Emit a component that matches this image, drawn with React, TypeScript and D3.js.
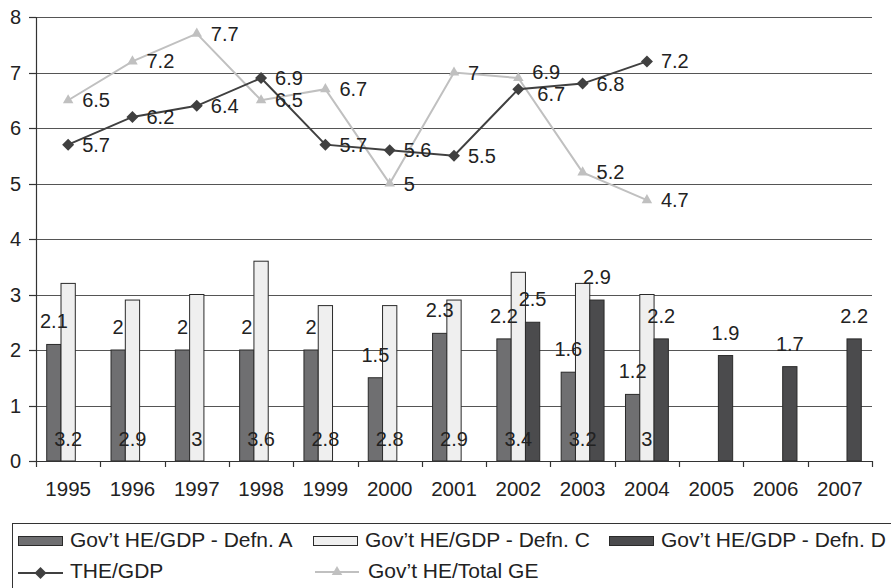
import React from 'react';
import * as d3 from 'd3';

const years = ['1995','1996','1997','1998','1999','2000','2001','2002','2003','2004','2005','2006','2007'];
const defnA: (number | null)[] = [2.1, 2, 2, 2, 2, 1.5, 2.3, 2.2, 1.6, 1.2, null, null, null];
const defnC: (number | null)[] = [3.2, 2.9, 3, 3.6, 2.8, 2.8, 2.9, 3.4, 3.2, 3, null, null, null];
const defnD: (number | null)[] = [null, null, null, null, null, null, null, 2.5, 2.9, 2.2, 1.9, 1.7, 2.2];
const theGdp: (number | null)[] = [5.7, 6.2, 6.4, 6.9, 5.7, 5.6, 5.5, 6.7, 6.8, 7.2, null, null, null];
const heTotalGe: (number | null)[] = [6.5, 7.2, 7.7, 6.5, 6.7, 5, 7, 6.9, 5.2, 4.7, null, null, null];
const yTicks = [0, 1, 2, 3, 4, 5, 6, 7, 8];

const barSeries = [
  { key: 'A', name: "Gov\u2019t HE/GDP - Defn. A", values: defnA, fill: '#6f6f71', label: 'above' },
  { key: 'C', name: "Gov\u2019t HE/GDP - Defn. C", values: defnC, fill: '#efefef', label: 'base' },
  { key: 'D', name: "Gov\u2019t HE/GDP - Defn. D", values: defnD, fill: '#4b4b4d', label: 'above' },
];

const FONT = 'Liberation Sans, Arial, sans-serif';
const W = 891, H = 588;
const left = 36, right = 872, top = 17, bottom = 461;
const FS = 20;

export default function App() {
  const x = d3.scaleBand<string>().domain(years).range([left, right]).paddingInner(0).paddingOuter(0);
  const x1 = d3.scaleBand<string>().domain(barSeries.map(s => s.key)).range([0, x.bandwidth()]).paddingInner(0).paddingOuter(0.75);
  const y = d3.scaleLinear().domain([0, 8]).range([bottom, top]);
  const cx = (i: number) => (x(years[i]) as number) + x.bandwidth() / 2;

  const lineGen = d3.line<[number, number]>().x(d => d[0]).y(d => d[1]);
  const pts = (vals: (number | null)[]) =>
    vals.map((v, i) => (v == null ? null : [cx(i), y(v)] as [number, number])).filter(Boolean) as [number, number][];

  const diamond = d3.symbol().type(d3.symbolSquare).size(72)() as string;
  const triangle = d3.symbol().type(d3.symbolTriangle).size(48)() as string;

  const boundaries = years.map(yr => x(yr) as number).concat([right]);

  const geNudge = (i: number) => (years[i] === '2002' ? { dx: 0, dy: -6 } : { dx: 0, dy: 0 });
  const theNudge = (i: number) => (years[i] === '2002' ? { dx: 5, dy: 5 } : { dx: 0, dy: 0 });

  return (
    <svg width={W} height={H} style={{ position: 'absolute', left: 0, top: 0, background: '#fff' }} fontFamily={FONT}>
      <rect x={0} y={0} width={W} height={H} fill="#fff" />
      {yTicks.filter(t => t > 0).map(t => (
        <line key={t} x1={left} x2={right} y1={Math.round(y(t)) + 0.5} y2={Math.round(y(t)) + 0.5} stroke="#555" strokeWidth={1} />
      ))}
      {barSeries.map(s => (
        <g key={s.key}>
          {s.values.map((v, i) => v == null ? null : (
            <rect key={i}
              x={(x(years[i]) as number) + (x1(s.key) as number)}
              y={y(v)}
              width={x1.bandwidth()}
              height={y(0) - y(v)}
              fill={s.fill} stroke="#2a2a2a" strokeWidth={1} />
          ))}
        </g>
      ))}
      <line x1={left + 0.5} x2={left + 0.5} y1={top} y2={bottom} stroke="#333" strokeWidth={1.2} />
      <line x1={left} x2={right} y1={bottom + 0.5} y2={bottom + 0.5} stroke="#333" strokeWidth={1.2} />
      {yTicks.map(t => (
        <g key={t}>
          <line x1={left - 7} x2={left} y1={Math.round(y(t)) + 0.5} y2={Math.round(y(t)) + 0.5} stroke="#333" strokeWidth={1.2} />
          <text x={21} y={y(t) + 7} textAnchor="end" fontSize={FS} fill="#222">{t}</text>
        </g>
      ))}
      {boundaries.map((b, i) => (
        <line key={i} x1={Math.round(b) + 0.5} x2={Math.round(b) + 0.5} y1={bottom} y2={bottom + 6} stroke="#333" strokeWidth={1.2} />
      ))}
      {years.map((yr, i) => (
        <text key={yr} x={cx(i)} y={496} textAnchor="middle" fontSize={20.5} fill="#222">{yr}</text>
      ))}
      {barSeries.map(s => (
        <g key={'l' + s.key}>
          {s.values.map((v, i) => v == null ? null : (
            <text key={i}
              x={(x(years[i]) as number) + (x1(s.key) as number) + x1.bandwidth() / 2}
              y={s.label === 'base' ? y(0) - 15 : y(v) - 16}
              textAnchor="middle" fontSize={FS} fill="#222">{v}</text>
          ))}
        </g>
      ))}
      <path d={lineGen(pts(heTotalGe)) as string} fill="none" stroke="#c0c0c0" strokeWidth={2} />
      {heTotalGe.map((v, i) => v == null ? null : (
        <path key={'t' + i} d={triangle} transform={`translate(${cx(i)},${y(v)})`} fill="#c0c0c0" />
      ))}
      <path d={lineGen(pts(theGdp)) as string} fill="none" stroke="#404040" strokeWidth={2} />
      {theGdp.map((v, i) => v == null ? null : (
        <path key={'d' + i} d={diamond} transform={`translate(${cx(i)},${y(v)}) rotate(45)`} fill="#404040" />
      ))}
      {heTotalGe.map((v, i) => v == null ? null : (
        <text key={'tl' + i} x={cx(i) + 14 + geNudge(i).dx} y={y(v) + 7 + geNudge(i).dy} fontSize={FS} fill="#222">{v}</text>
      ))}
      {theGdp.map((v, i) => v == null ? null : (
        <text key={'dl' + i} x={cx(i) + 14 + theNudge(i).dx} y={y(v) + 7 + theNudge(i).dy} fontSize={FS} fill="#222">{v}</text>
      ))}
      <rect x={12.5} y={523.5} width={900} height={100} fill="#fff" stroke="#333" strokeWidth={1} />
      {barSeries.map((s, k) => {
        const sx = [18, 313, 609][k];
        return (
          <g key={'lg' + s.key}>
            <rect x={sx + 0.5} y={536.5} width={44} height={9} fill={s.fill} stroke="#2a2a2a" strokeWidth={1} />
            <text x={sx + 52} y={547} fontSize={21} fill="#222">{s.name}</text>
          </g>
        );
      })}
      <line x1={18} x2={63} y1={573} y2={573} stroke="#404040" strokeWidth={2} />
      <path d={diamond} transform="translate(40.5,573) rotate(45)" fill="#404040" />
      <text x={70} y={578} fontSize={21} fill="#222">THE/GDP</text>
      <line x1={315} x2={359} y1={572} y2={572} stroke="#c0c0c0" strokeWidth={2} />
      <path d={triangle} transform="translate(337,572)" fill="#c0c0c0" />
      <text x={368} y={578} fontSize={21} fill="#222">Gov’t HE/Total GE</text>
    </svg>
  );
}
